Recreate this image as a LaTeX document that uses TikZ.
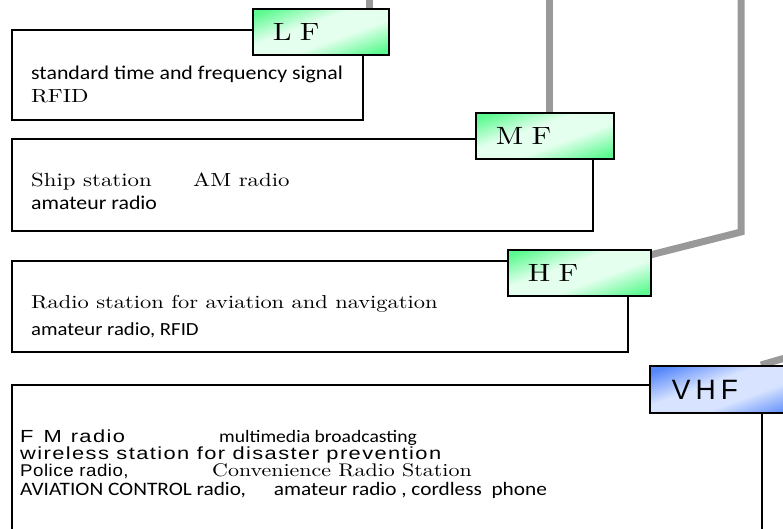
\documentclass[tikz,border=0pt]{standalone}
\usepackage{fontspec}
\usepackage{tikz}
\usetikzlibrary{backgrounds,calc}
\newfontfamily\wideserif[FakeStretch=1.2]{lmroman10-regular.otf}
\newfontfamily\calibsans[FakeStretch=1.12]{Carlito}
\newfontfamily\gothicsans[FakeStretch=1.25,LetterSpace=8]{Liberation Sans}
\newfontfamily\gothicnarrow[FakeStretch=1.1,LetterSpace=3]{Liberation Sans}
\newfontfamily\gothiclabel[LetterSpace=18]{Liberation Sans}
\definecolor{bandgreen}{HTML}{5CFA90}
\definecolor{bandgreenlight}{HTML}{E4FFEE}
\definecolor{bandblue}{HTML}{5586FA}
\definecolor{bandbluelight}{HTML}{D8E4FF}
\definecolor{wiregray}{HTML}{999999}
\pgfdeclareverticalshading{greenband}{100bp}{color(0bp)=(bandgreen); color(22bp)=(bandgreen);
  color(42bp)=(bandgreenlight); color(58bp)=(bandgreenlight); color(78bp)=(bandgreen); color(100bp)=(bandgreen)}
\pgfdeclareverticalshading{blueband}{100bp}{color(0bp)=(bandblue); color(22bp)=(bandblue);
  color(42bp)=(bandbluelight); color(58bp)=(bandbluelight); color(78bp)=(bandblue); color(100bp)=(bandblue)}

\begin{document}
\begin{tikzpicture}[x=1pt,y=-1pt,
    band/.style={draw=black, line width=1.6pt, fill=white, anchor=north west, inner sep=0pt},
    freqlabel/.style={draw=black, line width=1.8pt, anchor=north west, minimum height=46pt,
      inner xsep=20pt, inner ysep=0pt, align=left, font=\wideserif\fontsize{25}{28}\selectfont},
    greenlabel/.style={freqlabel, shading=greenband, shading angle=20},
    bluelabel/.style={freqlabel, inner xsep=22pt, minimum height=47pt, font=\gothiclabel\fontsize{28}{32}\selectfont,
      shading=blueband, shading angle=20},
    wire/.style={wiregray, line width=7pt},
    txt/.style={anchor=base west, inner sep=0pt},
    serifline/.style={txt, font=\wideserif\fontsize{19}{22}\selectfont},
    sansline/.style={txt, font=\calibsans\fontsize{19.5}{22}\selectfont},
    gothicline/.style={txt, font=\gothicsans\fontsize{17.5}{20}\selectfont}]
  \useasboundingbox (0,0) rectangle (783,529);
  \clip (0,0) rectangle (783,529);

  % L F
  \node[band, minimum width=351pt, minimum height=90pt] (lfbox) at (11,29) {};
  \node[greenlabel, text width=96pt] (lflabel) at (252,8) {L F};
  \node[sansline] (lfsignal) at (31,80) {standard time and frequency signal};
  \node[serifline] (lfrfid) at (31,103) {RFID};

  % M F
  \node[band, minimum width=581pt, minimum height=92pt] (mfbox) at (11,138) {};
  \node[greenlabel, text width=98pt] (mflabel) at (475,112) {M F};
  \node[serifline] (mfship) at (31,186) {Ship station};
  \node[serifline] (mfam) at (193,186) {AM radio};
  \node[sansline] (mfamateur) at (31,210) {amateur radio};

  % H F
  \node[band, minimum width=616pt, minimum height=91pt] (hfbox) at (11,260) {};
  \node[greenlabel, text width=103pt] (hflabel) at (507,249) {H F};
  \node[serifline, font=\wideserif\fontsize{18.7}{22}\selectfont] (hfradio) at (31,308) {Radio station for aviation and navigation};
  \node[sansline, font=\calibsans\fontsize{18.5}{22}\selectfont] (hfamateur) at (31,335) {amateur radio, RFID};

  % VHF
  \node[band, minimum width=750pt, minimum height=160pt] (vhfbox) at (11,384) {};
  \node[bluelabel, text width=116pt] (vhflabel) at (649,365) {VHF};
  \node[gothicline] (vhffm) at (20,442) {F\hspace{10pt}M\hspace{9pt}radio};
  \node[sansline, font=\calibsans\fontsize{17.5}{20}\selectfont] (vhfmulti) at (219,442) {multimedia broadcasting};
  \node[gothicline] (vhfwireless) at (20,459) {wireless station for disaster prevention};
  \node[gothicline, font=\gothicnarrow\fontsize{17}{20}\selectfont] (vhfpolice) at (20,476) {Police radio,};
  \node[serifline, font=\wideserif\fontsize{18.3}{20}\selectfont] (vhfconv) at (212,476) {Convenience Radio Station};
  \node[sansline, font=\calibsans\fontsize{19}{20}\selectfont] (vhfaviation) at (20,495)
    {AVIATION CONTROL radio,\hspace{28pt}amateur radio , cordless\ \ phone};

  % gray wires behind the labels
  \coordinate (lftop) at (369,-10);
  \coordinate (mftop) at (549,-10);
  \coordinate (hftop) at (741,-10);
  \coordinate (hfbend) at (741,232);
  \coordinate (vhfbend) at (830,345);
  \begin{scope}[on background layer]
    \draw[wire] (lftop) -- (lftop |- lflabel.center);
    \draw[wire] (mftop) -- (mftop |- mflabel.center);
    \draw[wire] (hftop) -- (hfbend) -- (hflabel.center);
    \draw[wire] (vhfbend) -- ($(vhflabel.north)+(31,0)$);
  \end{scope}
\end{tikzpicture}
\end{document}
